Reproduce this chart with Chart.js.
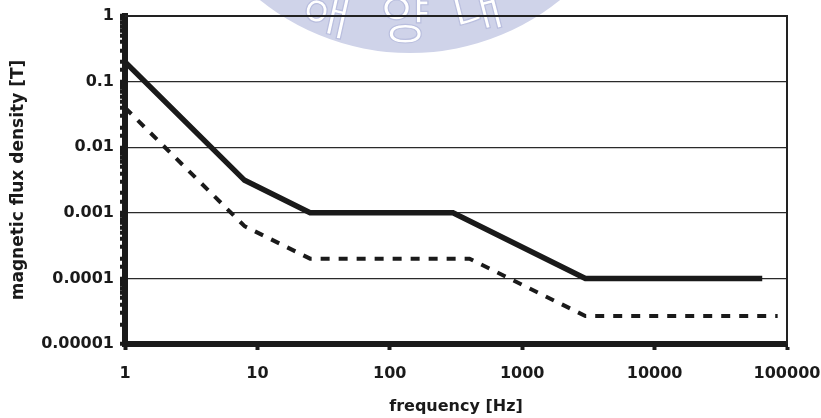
<!DOCTYPE html>
<html>
<head>
<meta charset="utf-8">
<title>magnetic flux density vs frequency</title>
<script src="https://cdn.jsdelivr.net/npm/chart.js@4.4.1/dist/chart.umd.min.js"></script>
<style>
  html, body { margin: 0; padding: 0; background: #fff; }
  #chart { display: block; }
</style>
</head>
<body>
<canvas id="chart" width="821" height="418"></canvas>
<script>
// solid curve (upper limit)
const freqSolid = [1, 8, 25, 300, 3000, 65000];
const fluxSolid = [0.2, 0.003125, 0.001, 0.001, 0.0001, 0.0001];
// dashed curve (lower limit)
const freqDashed = [1, 8, 25, 400, 3000, 85000];
const fluxDashed = [0.04, 0.000625, 0.0002, 0.0002, 0.0000267, 0.0000267];

const xTickLabels = ['1', '10', '100', '1000', '10000', '100000'];
const yTickLabels = ['0.00001', '0.0001', '0.001', '0.01', '0.1', '1'];

const FONT = 'DejaVu Sans';
const INK = '#1a1a1a';

function toPoints(xs, ys) {
  return xs.map((x, i) => ({ x: x, y: ys[i] }));
}

function decade(v) {
  const e = Math.round(Math.log10(v));
  return Math.abs(v - Math.pow(10, e)) < Math.pow(10, e) * 1e-6 ? e : null;
}

// faint university seal behind the plot
const sealPlugin = {
  id: 'seal',
  beforeDraw(chart) {
    const ctx = chart.ctx;
    ctx.save();
    ctx.fillStyle = '#cfd3e9';
    ctx.beginPath();
    ctx.arc(410, -186, 239, 0, Math.PI * 2);
    ctx.fill();
    ctx.font = '54px "Noto Sans CJK KR"';
    ctx.textAlign = 'center';
    ctx.textBaseline = 'middle';
    ctx.fillStyle = '#ffffff';
    ctx.strokeStyle = '#b9bede';
    ctx.lineWidth = 1.2;
    [['해', 327, 11, 0.22], ['양', 405, 18, 0], ['대', 477, 8, -0.25]].forEach(([ch, x, y, r]) => {
      ctx.save();
      ctx.translate(x, y);
      ctx.rotate(r);
      ctx.fillText(ch, 0, 0);
      ctx.strokeText(ch, 0, 0);
      ctx.restore();
    });
    ctx.restore();
  }
};

// top and right frame of the plot box
const framePlugin = {
  id: 'frame',
  beforeDatasetsDraw(chart) {
    const { ctx, chartArea: a } = chart;
    ctx.save();
    ctx.strokeStyle = '#222';
    ctx.lineWidth = 2;
    ctx.beginPath();
    ctx.moveTo(a.left, a.top);
    ctx.lineTo(a.right, a.top);
    ctx.lineTo(a.right, a.bottom);
    ctx.stroke();
    ctx.restore();
  }
};

function setupChart() {
  const ctx = document.getElementById('chart').getContext('2d');
  new Chart(ctx, {
    type: 'scatter',
    data: {
      datasets: [
        {
          label: 'solid',
          data: toPoints(freqSolid, fluxSolid),
          showLine: true,
          borderColor: INK,
          borderWidth: 5.5,
          pointRadius: 0,
          tension: 0
        },
        {
          label: 'dashed',
          data: toPoints(freqDashed, fluxDashed),
          showLine: true,
          borderColor: INK,
          borderWidth: 4,
          borderDash: [9, 9],
          pointRadius: 0,
          tension: 0
        }
      ]
    },
    options: {
      responsive: false,
      animation: false,
      layout: { padding: { top: 16, right: 34, left: 0, bottom: 0 } },
      plugins: {
        legend: { display: false },
        tooltip: { enabled: false }
      },
      scales: {
        x: {
          type: 'logarithmic',
          min: 1,
          max: 100000,
          afterFit: (scale) => {
            scale.height = 74;
            scale.paddingLeft = 0;
            scale.paddingRight = 0;
          },
          border: { display: true, color: INK, width: 6 },
          grid: {
            drawOnChartArea: false,
            drawTicks: true,
            tickLength: 6,
            tickWidth: 4,
            tickColor: (c) => decade(c.tick.value) !== null ? INK : 'rgba(0,0,0,0)'
          },
          ticks: {
            autoSkip: false,
            maxRotation: 0,
            padding: 14,
            color: INK,
            font: { family: FONT, size: 16, weight: 'bold' },
            callback: (v) => {
              const e = decade(v);
              return e === null ? '' : xTickLabels[e];
            }
          },
          title: {
            display: true,
            text: 'frequency [Hz]',
            color: INK,
            padding: { top: 0, bottom: 2 },
            font: { family: FONT, size: 16, weight: 'bold' }
          }
        },
        y: {
          type: 'logarithmic',
          min: 0.00001,
          max: 1,
          afterFit: (scale) => {
            scale.width = 125;
            scale.paddingTop = 0;
            scale.paddingBottom = 0;
          },
          border: { display: true, color: INK, width: 6 },
          grid: {
            drawOnChartArea: true,
            lineWidth: 1.3,
            color: (c) => decade(c.tick.value) !== null ? '#2a2a2a' : 'rgba(0,0,0,0)',
            tickLength: 5,
            tickWidth: 4,
            tickColor: INK
          },
          ticks: {
            autoSkip: false,
            padding: 6,
            color: INK,
            font: { family: FONT, size: 16, weight: 'bold' },
            callback: (v) => {
              const e = decade(v);
              return e === null ? '' : yTickLabels[e + 5];
            }
          },
          title: {
            display: true,
            text: 'magnetic flux density [T]',
            color: INK,
            padding: { top: 8, bottom: 0 },
            font: { family: FONT, size: 17, weight: 'bold' }
          }
        }
      }
    },
    plugins: [sealPlugin, framePlugin]
  });
}

document.addEventListener('DOMContentLoaded', () => {
  setupChart();
});
</script>
</body>
</html>
